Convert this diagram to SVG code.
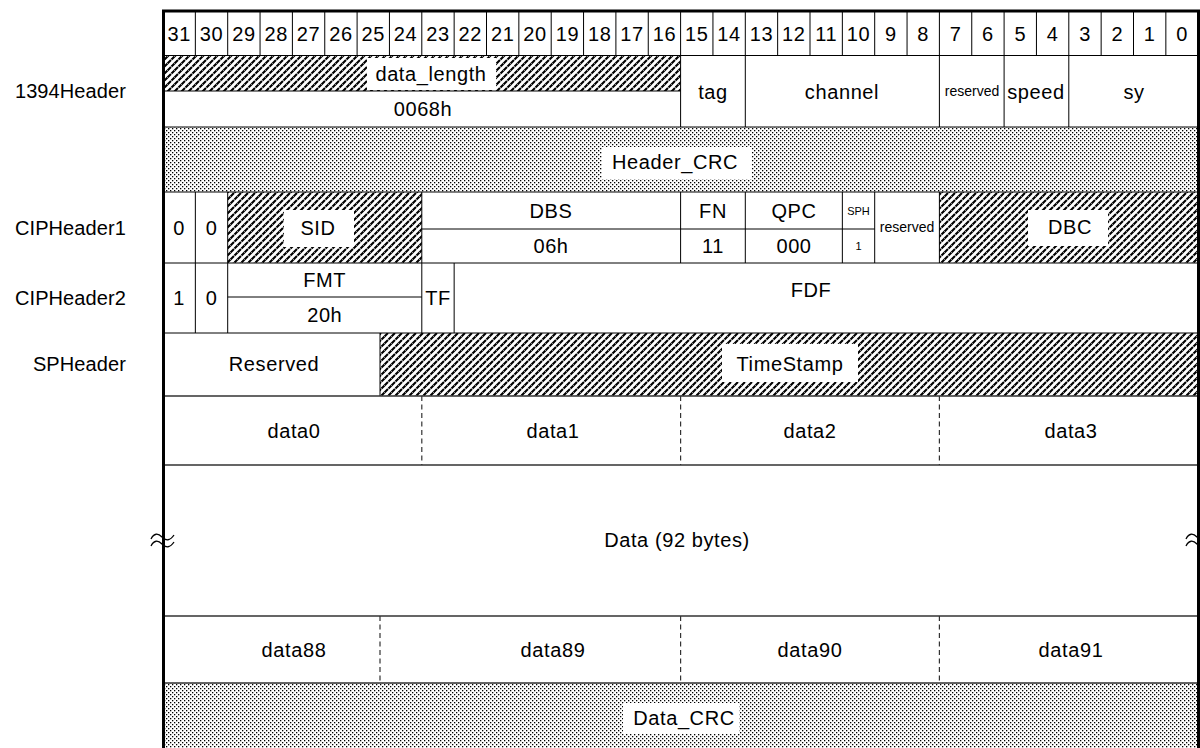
<svg xmlns="http://www.w3.org/2000/svg" width="1200" height="748" viewBox="0 0 1200 748">
<style>
text{font-family:"Liberation Sans",Arial,Helvetica,sans-serif;font-size:20px;letter-spacing:0.6px;fill:#000;text-anchor:middle;dominant-baseline:central}
.lbl{text-anchor:end;letter-spacing:0.1px}
.num{letter-spacing:0.3px}
.sm{font-size:14px;letter-spacing:0}
.xs{font-size:11px;letter-spacing:0}
.ln{stroke:#000;stroke-width:1;fill:none}
.rl{stroke:#333;stroke-width:1.3;fill:none}
.dash{stroke:#333;stroke-width:1.2;stroke-dasharray:5 3.5;fill:none}
.frame{stroke:#000;stroke-width:3;fill:none}
.wb{fill:#fff}
.brk{stroke:#000;stroke-width:1.3;fill:none}
</style>
<defs>
<pattern id="hatch" width="7" height="7" patternUnits="userSpaceOnUse">
<rect width="7" height="7" fill="#fff"/>
<path d="M-1.75,1.75L1.75,-1.75M0,7L7,0M5.25,8.75L8.75,5.25" stroke="#000" stroke-width="2.1" stroke-dasharray="4.2 0.75"/>
</pattern>
<pattern id="dots" width="4" height="4" patternUnits="userSpaceOnUse">
<rect width="4" height="4" fill="#fff"/>
<rect x="0" y="0" width="1.3" height="1.3" fill="#000"/>
<rect x="2" y="2" width="1.3" height="1.3" fill="#000"/>
</pattern>
</defs>
<rect width="1200" height="748" fill="#fff"/>

<g id="row-labels">
<text class="lbl" x="126" y="91">1394Header</text>
<text class="lbl" x="126" y="228">CIPHeader1</text>
<text class="lbl" x="126" y="298">CIPHeader2</text>
<text class="lbl" x="126" y="364">SPHeader</text>
</g>

<g id="fills">
<rect x="163" y="55.5" width="517.6" height="35.5" fill="url(#hatch)"/>
<rect x="163" y="127" width="1035.2" height="65" fill="url(#dots)"/>
<rect x="227.7" y="192" width="194.1" height="71" fill="url(#hatch)"/>
<rect x="939.4" y="192" width="258.8" height="71" fill="url(#hatch)"/>
<rect x="380" y="333" width="818.2" height="63" fill="url(#hatch)"/>
<rect x="163" y="683" width="1035.2" height="66" fill="url(#dots)"/>
</g>

<g id="bit-numbers" class="num">
<text x="179.2" y="34">31</text><text x="211.5" y="34">30</text><text x="243.9" y="34">29</text><text x="276.2" y="34">28</text>
<text x="308.6" y="34">27</text><text x="340.9" y="34">26</text><text x="373.3" y="34">25</text><text x="405.6" y="34">24</text>
<text x="438.0" y="34">23</text><text x="470.3" y="34">22</text><text x="502.7" y="34">21</text><text x="535.0" y="34">20</text>
<text x="567.4" y="34">19</text><text x="599.7" y="34">18</text><text x="632.1" y="34">17</text><text x="664.4" y="34">16</text>
<text x="696.8" y="34">15</text><text x="729.1" y="34">14</text><text x="761.5" y="34">13</text><text x="793.8" y="34">12</text>
<text x="826.2" y="34">11</text><text x="858.5" y="34">10</text><text x="890.9" y="34">9</text><text x="923.2" y="34">8</text>
<text x="955.6" y="34">7</text><text x="987.9" y="34">6</text><text x="1020.3" y="34">5</text><text x="1052.6" y="34">4</text>
<text x="1085.0" y="34">3</text><text x="1117.3" y="34">2</text><text x="1149.7" y="34">1</text><text x="1182.0" y="34">0</text>
</g>

<g id="grid">
<path class="ln" d="M195.35,11V55.5M227.7,11V55.5M260.05,11V55.5M292.4,11V55.5M324.75,11V55.5M357.1,11V55.5M389.45,11V55.5M421.8,11V55.5M454.15,11V55.5M486.5,11V55.5M518.85,11V55.5M551.2,11V55.5M583.55,11V55.5M615.9,11V55.5M648.25,11V55.5M680.6,11V55.5M712.95,11V55.5M745.3,11V55.5M777.65,11V55.5M810,11V55.5M842.35,11V55.5M874.7,11V55.5M907.05,11V55.5M939.4,11V55.5M971.75,11V55.5M1004.1,11V55.5M1036.45,11V55.5M1068.8,11V55.5M1101.15,11V55.5M1133.5,11V55.5M1165.85,11V55.5"/>
<path class="ln" d="M163,55.5H1198M163,91H680.6M163,127H1198M163,192H1198M163,263H1198M163,333H1198"/>
<path class="ln" d="M680.6,55.5V127M745.3,55.5V127M939.4,55.5V127M1004.1,55.5V127M1068.8,55.5V127"/>
<path class="ln" d="M195.35,192V263M227.7,192V263M421.8,192V263M680.6,192V263M745.3,192V263M842.35,192V263M874.7,192V263M939.4,192V263M421.8,229H874.7"/>
<path class="ln" d="M195.35,263V333M227.7,263V333M421.8,263V333M454.15,263V333M227.7,297H421.8"/>
<path class="ln" d="M380,333V396"/>
<path class="rl" d="M163,396H1198M163,465H1198M163,616H1198M163,683H1198"/>
<path class="dash" d="M421.8,396V465M680.6,396V465M939.4,396V465M380,616V683M680.6,616V683M939.4,616V683"/>
</g>

<g id="f-data-length"><rect class="wb" x="367" y="58" width="129" height="32"/><text x="431" y="74">data_length</text></g>
<g id="f-0068h"><text x="423" y="109">0068h</text></g>
<g id="f-tag"><text x="713" y="92">tag</text></g>
<g id="f-channel"><text x="842" y="92">channel</text></g>
<g id="f-reserved1"><text class="sm" x="972" y="91">reserved</text></g>
<g id="f-speed"><text x="1036" y="92">speed</text></g>
<g id="f-sy"><text x="1134" y="92">sy</text></g>
<g id="f-header-crc"><rect class="wb" x="602" y="147" width="150" height="32"/><text x="675" y="162">Header_CRC</text></g>

<g id="f-cip1-bits"><text x="179.2" y="228">0</text><text x="211.5" y="228">0</text></g>
<g id="f-sid"><rect class="wb" x="284" y="210" width="70" height="37"/><text x="318" y="228">SID</text></g>
<g id="f-dbs"><text x="551" y="211">DBS</text><text x="551" y="246">06h</text></g>
<g id="f-fn"><text x="713" y="211">FN</text><text x="713" y="246">11</text></g>
<g id="f-qpc"><text x="794" y="211">QPC</text><text x="794" y="246">000</text></g>
<g id="f-sph"><text class="xs" x="858.5" y="211">SPH</text><text class="xs" x="858.5" y="246">1</text></g>
<g id="f-reserved2"><text class="sm" x="907" y="227">reserved</text></g>
<g id="f-dbc"><rect class="wb" x="1028" y="210" width="80" height="36"/><text x="1070" y="227">DBC</text></g>

<g id="f-cip2-bits"><text x="179.2" y="298">1</text><text x="211.5" y="298">0</text></g>
<g id="f-fmt"><text x="324.75" y="280">FMT</text><text x="324.75" y="315">20h</text></g>
<g id="f-tf"><text x="438" y="298">TF</text></g>
<g id="f-fdf"><text x="811" y="290">FDF</text></g>

<g id="f-sp-reserved"><text x="274" y="364">Reserved</text></g>
<g id="f-timestamp"><rect class="wb" x="722" y="344" width="136" height="38"/><text x="790" y="364">TimeStamp</text></g>

<g id="f-data-first"><text x="294" y="431">data0</text><text x="553" y="431">data1</text><text x="810" y="431">data2</text><text x="1071" y="431">data3</text></g>
<g id="f-data-body"><text x="677" y="540">Data (92 bytes)</text></g>
<g id="f-data-last"><text x="294" y="650">data88</text><text x="553" y="650">data89</text><text x="810" y="650">data90</text><text x="1071" y="650">data91</text></g>
<g id="f-data-crc"><rect class="wb" x="623" y="703" width="116" height="31"/><text x="684" y="718">Data_CRC</text></g>

<g id="frame">
<path class="frame" d="M163.5,749V11H1198.5V749"/>
</g>

<g id="breaks">
<path class="brk" d="M151,539 C154,533 158,533 162,537 S170,541 174,535 M151,546 C154,540 158,540 162,544 S170,548 174,542"/>
<path class="brk" d="M1186,539 C1189,533 1193,533 1197,537 S1205,541 1209,535 M1186,546 C1189,540 1193,540 1197,544 S1205,548 1209,542"/>
</g>

<g id="connectors"></g>
</svg>
